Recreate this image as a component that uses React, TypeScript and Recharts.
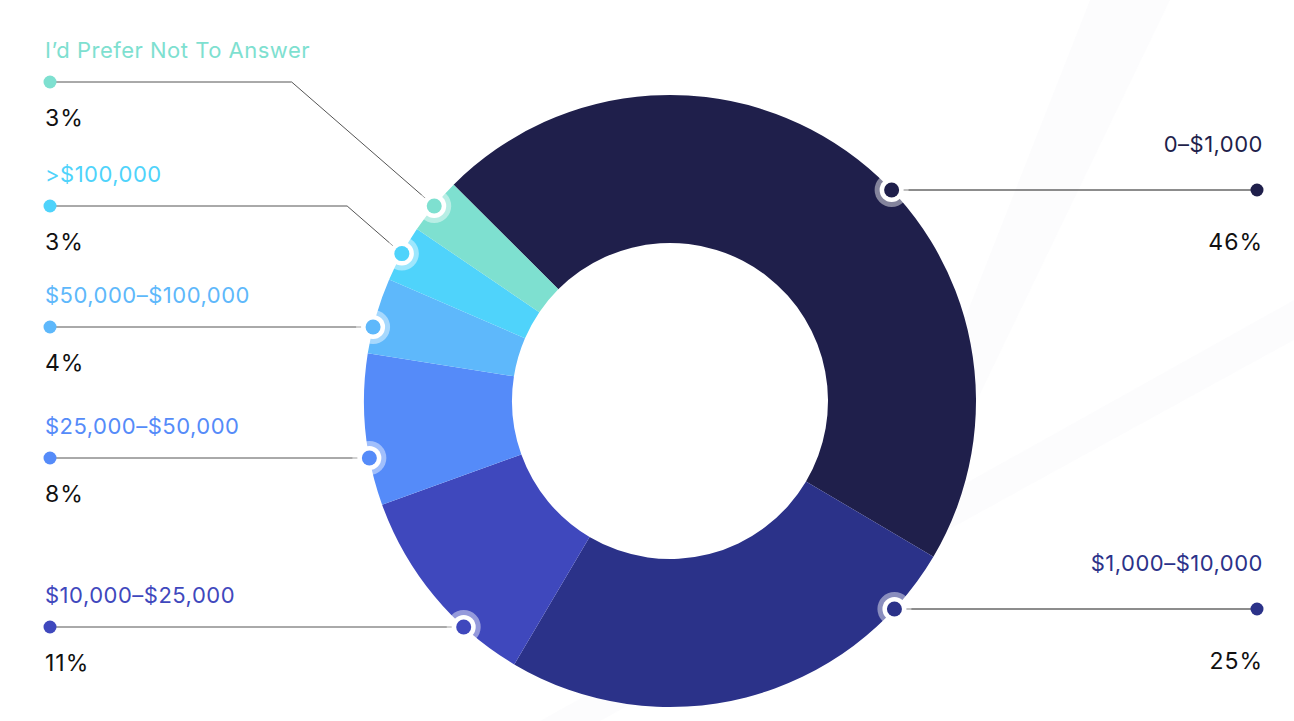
import { PieChart, Pie, Cell } from 'recharts';

const CATEGORIES = [
  '0–$1,000',
  '$1,000–$10,000',
  '$10,000–$25,000',
  '$25,000–$50,000',
  '$50,000–$100,000',
  '>$100,000',
  'I’d Prefer Not To Answer',
];
const SHARES = [46, 25, 11, 8, 4, 3, 3];
const COLORS = ['#1f1f4b', '#2b3289', '#3f48bd', '#558bf9', '#5eb8fb', '#4fd3fb', '#7ee0d0'];

const data = CATEGORIES.map((name, i) => ({ name, value: SHARES[i] }));

// callout rows: which side they sit on and the y of the leader line
const ROWS = [
  { side: 'right', y: 190 },
  { side: 'right', y: 609 },
  { side: 'left', y: 627 },
  { side: 'left', y: 458 },
  { side: 'left', y: 327 },
  { side: 'left', y: 206 },
  { side: 'left', y: 82 },
];

const W = 1294;
const H = 721;
const RAD = Math.PI / 180;
const FONT = 'Inter, "Noto Sans", sans-serif';

function Callout(props: any) {
  const { cx, cy, outerRadius, midAngle, percent, index, value } = props;
  const row = ROWS[index];
  const color = COLORS[index];
  const half = percent * 180;
  const lo = midAngle - half;
  const hi = midAngle + half;

  // marker goes where the row's line meets the rim, or mid-slice with an elbow
  let angle = midAngle;
  let straight = false;
  const dy = row.y - cy;
  if (Math.abs(dy) < outerRadius) {
    const a = Math.asin(-dy / outerRadius) / RAD;
    const base = row.side === 'right' ? a : 180 - a;
    for (const c of [base, base - 360, base + 360]) {
      if (c >= lo && c <= hi) {
        angle = c;
        straight = true;
      }
    }
  }
  const mx = cx + outerRadius * Math.cos(angle * RAD);
  const my = straight ? row.y : cy - outerRadius * Math.sin(angle * RAD);

  const right = row.side === 'right';
  const dotX = right ? 1257 : 50;
  let points = `${dotX},${row.y} ${mx},${my}`;
  if (!straight) {
    const ex = mx - Math.abs(my - row.y) * 1.15;
    points = `${dotX},${row.y} ${ex},${row.y} ${mx},${my}`;
  }
  const textX = right ? 1263 : 45;
  const anchor = right ? 'end' : 'start';

  return (
    <g>
      <polyline points={points} fill="none" stroke={right ? '#1a1a1a' : '#555'} strokeWidth={1} />
      <circle cx={dotX} cy={row.y} r={6.5} fill={color} />
      <circle cx={mx} cy={my} r={17} fill="#fff" fillOpacity={0.45} />
      <circle cx={mx} cy={my} r={12} fill="#fff" />
      <circle cx={mx} cy={my} r={7.5} fill={color} />
      <text
        x={textX}
        y={row.y + (right ? -38 : -24)}
        textAnchor={anchor}
        fill={color}
        fontSize={22}
        letterSpacing={0.5}
        fontFamily={FONT}
      >
        {CATEGORIES[index]}
      </text>
      <text
        x={textX}
        y={row.y + (right ? 60 : 44)}
        textAnchor={anchor}
        fill="#111"
        fontSize={23}
        letterSpacing={1}
        fontFamily={FONT}
      >
        {`${value}%`}
      </text>
    </g>
  );
}

export default function App() {
  return (
    <div style={{ position: 'absolute', left: 0, top: 0, width: W, height: H, background: '#fff', overflow: 'hidden' }}>
      <svg width={W} height={H} style={{ position: 'absolute', left: 0, top: 0 }}>
        <polygon points="1090,0 1170,0 900,560 870,560" fill="#f5f6f8" fillOpacity={0.3} />
        <polygon points="1294,300 1294,340 600,721 540,721" fill="#f5f6f8" fillOpacity={0.3} />
      </svg>
      <div style={{ position: 'absolute', left: 0, top: 0 }}>
        <PieChart width={W} height={H} margin={{ top: 0, right: 0, bottom: 0, left: 0 }}>
          <Pie
            data={data}
            dataKey="value"
            nameKey="name"
            cx={670}
            cy={401}
            innerRadius={158}
            outerRadius={306}
            startAngle={135}
            endAngle={-225}
            stroke="none"
            labelLine={false}
            label={Callout}
            isAnimationActive={false}
          >
            {data.map((entry, index) => (
              <Cell key={`${entry.name}-${index}`} fill={COLORS[index]} />
            ))}
          </Pie>
        </PieChart>
      </div>
    </div>
  );
}
